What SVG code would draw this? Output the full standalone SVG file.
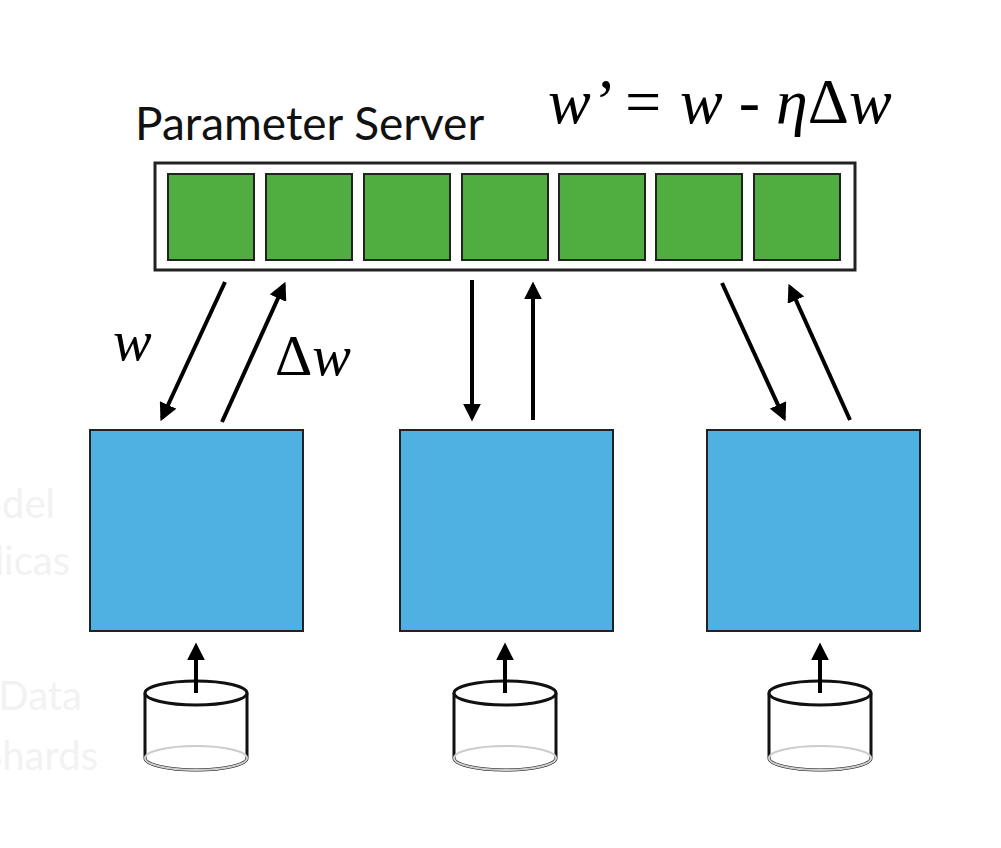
<svg xmlns="http://www.w3.org/2000/svg" width="1001" height="848" viewBox="0 0 1001 848">
<defs>
<marker id="ah" viewBox="0 0 10 10" refX="8" refY="5" markerWidth="4.5" markerHeight="4.5" orient="auto"><path d="M0,0 L10,5 L0,10 z" fill="#000"/></marker>
</defs>
<style>
.cell{fill:#4fae3f;stroke:#222;stroke-width:2}
.box{fill:#4fb1e1;stroke:#222;stroke-width:2}
.ar{stroke:#000;stroke-width:4;fill:none;marker-end:url(#ah)}
.cyl{fill:#fff;stroke:#111;stroke-width:3}
.faint{font-family:Lato,sans-serif;font-size:40px;fill:#f2f2f2}
.math{font-family:'Liberation Serif','Times New Roman',serif;font-style:italic;fill:#000}
.up{font-style:normal}
</style>
<rect width="1001" height="848" fill="#fff"/>
<text class="faint" x="55" y="518" text-anchor="end">Model</text>
<text class="faint" x="70" y="575" text-anchor="end">Replicas</text>
<text class="faint" x="82" y="710" text-anchor="end">Data</text>
<text class="faint" x="98" y="770" text-anchor="end">Shards</text>
<text x="135" y="140" font-family="Lato, sans-serif" font-size="46" fill="#111">Parameter Server</text>
<text class="math" x="548" y="123" font-size="64">w’ = w - η<tspan class="up">Δ</tspan>w</text>
<g id="server">
<rect x="155" y="163" width="700" height="107" fill="#fff" stroke="#222" stroke-width="3"/>
<rect class="cell" x="168" y="174" width="86" height="86"/>
<rect class="cell" x="266" y="174" width="86" height="86"/>
<rect class="cell" x="364" y="174" width="86" height="86"/>
<rect class="cell" x="462" y="174" width="86" height="86"/>
<rect class="cell" x="559" y="174" width="86" height="86"/>
<rect class="cell" x="656" y="174" width="86" height="86"/>
<rect class="cell" x="754" y="174" width="86" height="86"/>
</g>
<g id="replica1"><rect class="box" x="90" y="430" width="213" height="201"/></g>
<g id="replica2"><rect class="box" x="400" y="430" width="213" height="201"/></g>
<g id="replica3"><rect class="box" x="707" y="430" width="213" height="201"/></g>
<g id="shard1" transform="translate(196,0)">
<path class="cyl" d="M-51,693 V758 A51,12 0 0 0 51,758 V693"/>
<ellipse cx="0" cy="758" rx="51" ry="12" fill="none" stroke="#ccc" stroke-width="2"/>
<ellipse class="cyl" cx="0" cy="693" rx="51" ry="12"/>
</g>
<g id="shard2" transform="translate(505,0)">
<path class="cyl" d="M-51,693 V758 A51,12 0 0 0 51,758 V693"/>
<ellipse cx="0" cy="758" rx="51" ry="12" fill="none" stroke="#ccc" stroke-width="2"/>
<ellipse class="cyl" cx="0" cy="693" rx="51" ry="12"/>
</g>
<g id="shard3" transform="translate(820,0)">
<path class="cyl" d="M-51,693 V758 A51,12 0 0 0 51,758 V693"/>
<ellipse cx="0" cy="758" rx="51" ry="12" fill="none" stroke="#ccc" stroke-width="2"/>
<ellipse class="cyl" cx="0" cy="693" rx="51" ry="12"/>
</g>
<g id="connectors">
<line class="ar" x1="225" y1="282" x2="162" y2="418"/>
<line class="ar" x1="222" y1="422" x2="284" y2="285"/>
<line class="ar" x1="472" y1="280" x2="472" y2="418"/>
<line class="ar" x1="533" y1="420" x2="533" y2="285"/>
<line class="ar" x1="722" y1="283" x2="784" y2="418"/>
<line class="ar" x1="850" y1="420" x2="790" y2="287"/>
<line class="ar" x1="196" y1="693" x2="196" y2="646"/>
<line class="ar" x1="505" y1="693" x2="505" y2="646"/>
<line class="ar" x1="820" y1="693" x2="820" y2="646"/>
</g>
<text class="math" x="113" y="360" font-size="58">w</text>
<text class="math" x="275" y="375" font-size="58"><tspan class="up">Δ</tspan>w</text>
</svg>
